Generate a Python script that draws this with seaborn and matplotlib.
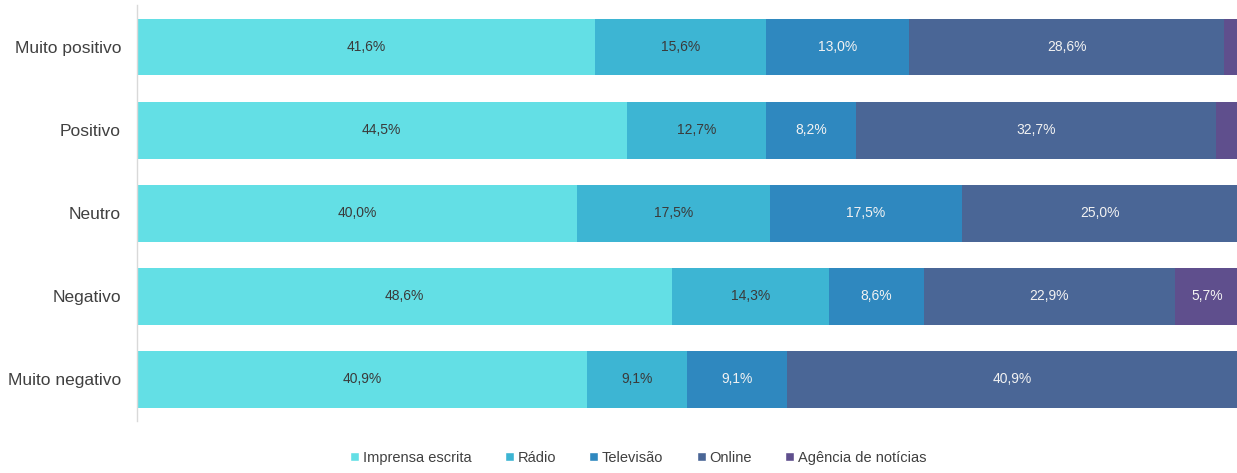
import pandas as pd
import numpy as np
import matplotlib.pyplot as plt
import seaborn as sns
from matplotlib.patches import Patch

# data (percent of each row)
categories = ["Muito positivo", "Positivo", "Neutro", "Negativo", "Muito negativo"]
series_names = ["Imprensa escrita", "Rádio", "Televisão", "Online", "Agência de notícias"]
imprensa = [41.6, 44.5, 40.0, 48.6, 40.9]
radio = [15.6, 12.7, 17.5, 14.3, 9.1]
televisao = [13.0, 8.2, 17.5, 8.6, 9.1]
online = [28.6, 32.7, 25.0, 22.9, 40.9]
agencia = [1.2, 1.9, 0.0, 5.7, 0.0]

colors = ["#63dfe5", "#3db5d3", "#2f88bf", "#4a6696", "#5f4f8d"]
label_colors = ["#3a3a3a", "#3a3a3a", "#f2f2f2", "#f2f2f2", "#f2f2f2"]

sns.set_style("white")
plt.rcParams["font.family"] = ["Liberation Sans", "DejaVu Sans"]

values = np.array([imprensa, radio, televisao, online, agencia])
cumulative = values.cumsum(axis=0)

df = pd.DataFrame({"Categoria": categories})
for name, cum in zip(series_names, cumulative):
    df[name] = cum

fig = plt.figure(figsize=(12.37, 4.73), dpi=100)
ax = fig.add_axes([0.1108, 0.110, 0.8892, 0.8785])

# draw from the longest cumulative bar back to the first so segments stack
for i in reversed(range(len(series_names))):
    sns.barplot(
        data=df,
        x=series_names[i],
        y="Categoria",
        order=categories,
        color=colors[i],
        width=0.685,
        saturation=1,
        linewidth=0,
        orient="h",
        ax=ax,
    )

# centred percentage labels (tiny segments left unlabelled)
for i in range(len(series_names)):
    for j, cat in enumerate(categories):
        v = values[i][j]
        if v < 3:
            continue
        center = cumulative[i][j] - v / 2
        ax.text(
            center, j, f"{v:.1f}%".replace(".", ","),
            ha="center", va="center", fontsize=10, color=label_colors[i],
        )

ax.set_xlim(0, 100)
ax.set_ylim(4.5, -0.5)
ax.set_xlabel("")
ax.set_ylabel("")
ax.set_xticks([])
ax.tick_params(axis="y", length=0, pad=11.5, labelsize=12.5, labelcolor="#404040")
for side in ["top", "right", "bottom"]:
    ax.spines[side].set_visible(False)
ax.spines["left"].set_color("#d9d9d9")
ax.spines["left"].set_linewidth(1)

legend_elements = [Patch(facecolor=c, label=n) for c, n in zip(colors, series_names)]
fig.legend(
    handles=legend_elements,
    loc="center",
    bbox_to_anchor=(0.516, 0.032),
    ncol=5,
    frameon=False,
    fontsize=10.5,
    handlelength=0.6,
    handleheight=0.6,
    handletextpad=0.25,
    columnspacing=2.3,
    labelcolor="#404040",
)

fig.savefig("out.png", dpi=100)
